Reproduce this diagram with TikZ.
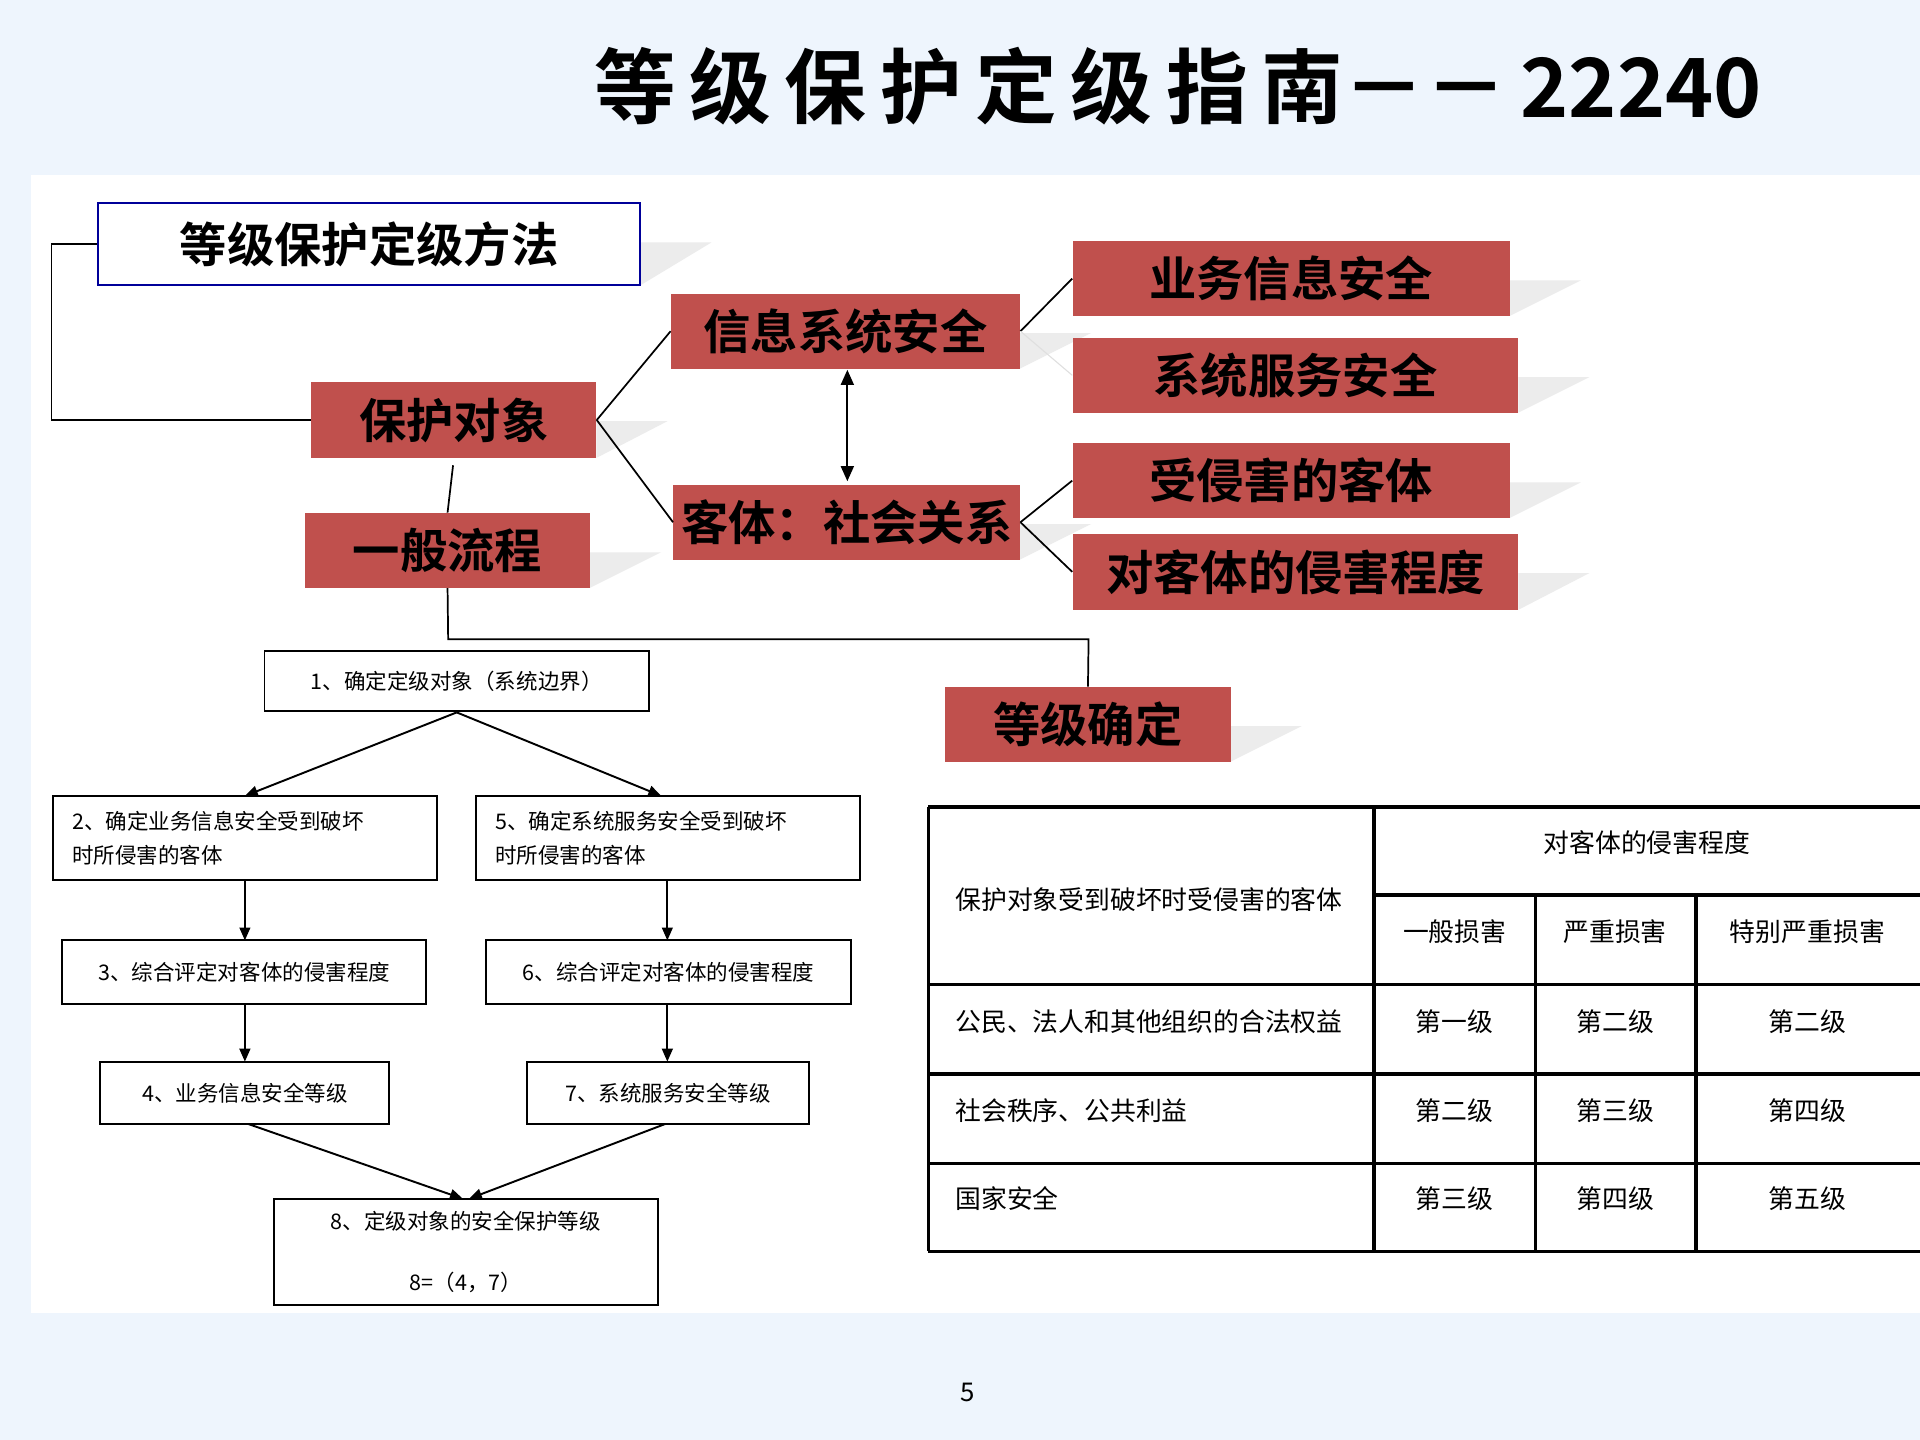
\documentclass[tikz,border=0pt]{standalone}
\usepackage{fontspec}
\setmainfont{Noto Sans CJK SC}
\newfontfamily\cjk{Noto Sans CJK SC}
\newfontfamily\cjkb{Noto Sans CJK SC Bold}
\usetikzlibrary{arrows.meta}
\definecolor{bgblue}{HTML}{EEF5FD}
\definecolor{redf}{HTML}{C0504D}
\newcommand{\bx}[7]{%
 \node[#6, minimum width={(#4-#2)*0.02cm}, minimum height={(#5-#3)*0.02cm}] (#1) at ({(#2+#4)/2},{(#3+#5)/2}) {#7};}
\newcommand{\shd}[4]{\fill[gray!15] (#3,#2+32) -- (#3+58,#2+32) -- (#3,#4) -- cycle;}
\begin{document}
\begin{tikzpicture}[x=0.02cm,y=-0.02cm,
 redbox/.style={fill=redf, inner sep=0pt, font=\cjkb\fontsize{22}{26}\selectfont, text=black},
 flowbox/.style={draw=black, line width=0.9pt, fill=white, inner sep=0pt, font=\cjk\fontsize{10}{16}\selectfont},
 ln/.style={line width=0.8pt},
 arr/.style={line width=0.9pt,-{Triangle[length=6pt,width=5pt]}},
 tl/.style={line width=1.5pt},
 tt/.style={font=\cjk\fontsize{12}{14}\selectfont, anchor=west}]
\useasboundingbox (0,0) rectangle (1568,1176);
\fill[bgblue] (0,0) rectangle (1568,1176);
\fill[white] (25,143) rectangle (1568,1072);
\node[font=\cjkb\fontsize{38}{44}\selectfont] (title) at (962,70) {等\,级\,保\,护\,定\,级\,指\,南－－\,22240};
% shadows
\shd{x}{166}{523}{233}
\shd{x}{240}{833}{301}
\shd{x}{197}{1233}{258}
\shd{x}{276}{1240}{337}
\shd{x}{312}{487}{374}
\shd{x}{396}{833}{457}
\shd{x}{362}{1233}{423}
\shd{x}{436}{1240}{498}
\shd{x}{419}{482}{480}
\shd{x}{561}{1005}{622}
% boxes
\bx{meth}{80}{166}{523}{233}{draw=blue!60!black, line width=1pt, fill=white, inner sep=0pt, font=\cjkb\fontsize{22}{26}\selectfont}{等级保护定级方法}
\bx{xxaq}{548}{240}{833}{301}{redbox}{信息系统安全}
\bx{ywaq}{876}{197}{1233}{258}{redbox}{业务信息安全}
\bx{fwaq}{876}{276}{1240}{337}{redbox}{系统服务安全}
\bx{bhdx}{254}{312}{487}{374}{redbox}{保护对象}
\bx{kt}{550}{396}{833}{457}{redbox}{客体：社会关系}
\bx{sqh}{876}{362}{1233}{423}{redbox}{受侵害的客体}
\bx{qhcd}{876}{436}{1240}{498}{redbox}{对客体的侵害程度}
\bx{lc}{249}{419}{482}{480}{redbox}{一般流程}
\bx{djqd}{772}{561}{1005}{622}{redbox}{等级确定}
% connectors
\draw[ln] (meth.west) -- (42,199.5) -- (42,343) -- (bhdx.west);
\draw[ln] (bhdx.east) -- (xxaq.west);
\draw[ln] (bhdx.east) -- (kt.west);
\draw[ln] (xxaq.east) -- (ywaq.west);
\draw[line width=0.5pt, gray!25] (xxaq.east) -- (fwaq.west);
\draw[ln] (kt.east) -- (sqh.west);
\draw[ln] (kt.east) -- (qhcd.west);
\draw[line width=0.9pt,{Triangle[length=7pt,width=6pt]}-{Triangle[length=7pt,width=6pt]}] (692,302) -- (692,393);
\draw[ln] (370,380) -- (lc.north);
\draw[ln] (lc.south) -- (366,522) -- (889,522) -- (djqd.north);
% flowchart
\bx{f1}{216}{532}{530}{581}{flowbox}{1、确定定级对象（系统边界）}
\bx{f2}{43}{650}{357}{719}{flowbox, align=left, text width=282*0.02cm}{2、确定业务信息安全受到破坏\\时所侵害的客体}
\bx{f5}{389}{650}{702}{719}{flowbox, align=left, text width=282*0.02cm}{5、确定系统服务安全受到破坏\\时所侵害的客体}
\bx{f3}{51}{768}{348}{820}{flowbox}{3、综合评定对客体的侵害程度}
\bx{f6}{397}{768}{695}{820}{flowbox}{6、综合评定对客体的侵害程度}
\bx{f4}{82}{867}{318}{918}{flowbox}{4、业务信息安全等级}
\bx{f7}{430}{867}{661}{918}{flowbox}{7、系统服务安全等级}
\bx{f8}{224}{979}{537}{1066}{flowbox, align=center}{8、定级对象的安全保护等级\\[12pt]8=（4，7）}
\draw[arr] (f1.south) -- (200,650);
\draw[arr] (f1.south) -- (540,650);
\draw[arr] (200,719) -- (200,768);
\draw[arr] (545,719) -- (545,768);
\draw[arr] (200,820) -- (200,867);
\draw[arr] (545,820) -- (545,867);
\draw[arr] (203,918) -- (378,979);
\draw[arr] (543,918) -- (383,979);
% table
\draw[tl] (758,659) -- (1568,659);
\draw[tl] (1122,731) -- (1568,731);
\foreach \yy in {804,877,950,1022} \draw[tl] (758,\yy) -- (1568,\yy);
\draw[tl] (758,659) -- (758,1022);
\draw[tl] (1122,659) -- (1122,1022);
\draw[tl] (1254,731) -- (1254,1022);
\draw[tl] (1385,731) -- (1385,1022);
\node[tt, anchor=center] (h1) at (1345,688) {对客体的侵害程度};
\node[tt] (h0) at (774,735) {保护对象受到破坏时受侵害的客体};
\node[tt, anchor=center] (h2) at (1188,761) {一般损害};
\node[tt, anchor=center] (h3) at (1319,761) {严重损害};
\node[tt, anchor=center] (h4) at (1476,761) {特别严重损害};
\node[tt] (r1) at (774,834) {公民、法人和其他组织的合法权益};
\node[tt] (r2) at (774,907) {社会秩序、公共利益};
\node[tt] (r3) at (774,979) {国家安全};
\node[tt, anchor=center] (c11) at (1188,834) {第一级};
\node[tt, anchor=center] (c12) at (1319,834) {第二级};
\node[tt, anchor=center] (c13) at (1476,834) {第二级};
\node[tt, anchor=center] (c21) at (1188,907) {第二级};
\node[tt, anchor=center] (c22) at (1319,907) {第三级};
\node[tt, anchor=center] (c23) at (1476,907) {第四级};
\node[tt, anchor=center] (c31) at (1188,979) {第三级};
\node[tt, anchor=center] (c32) at (1319,979) {第四级};
\node[tt, anchor=center] (c33) at (1476,979) {第五级};
\node[font=\cjk\fontsize{12}{14}\selectfont] (pg) at (790,1137) {5};
\end{tikzpicture}
\end{document}
